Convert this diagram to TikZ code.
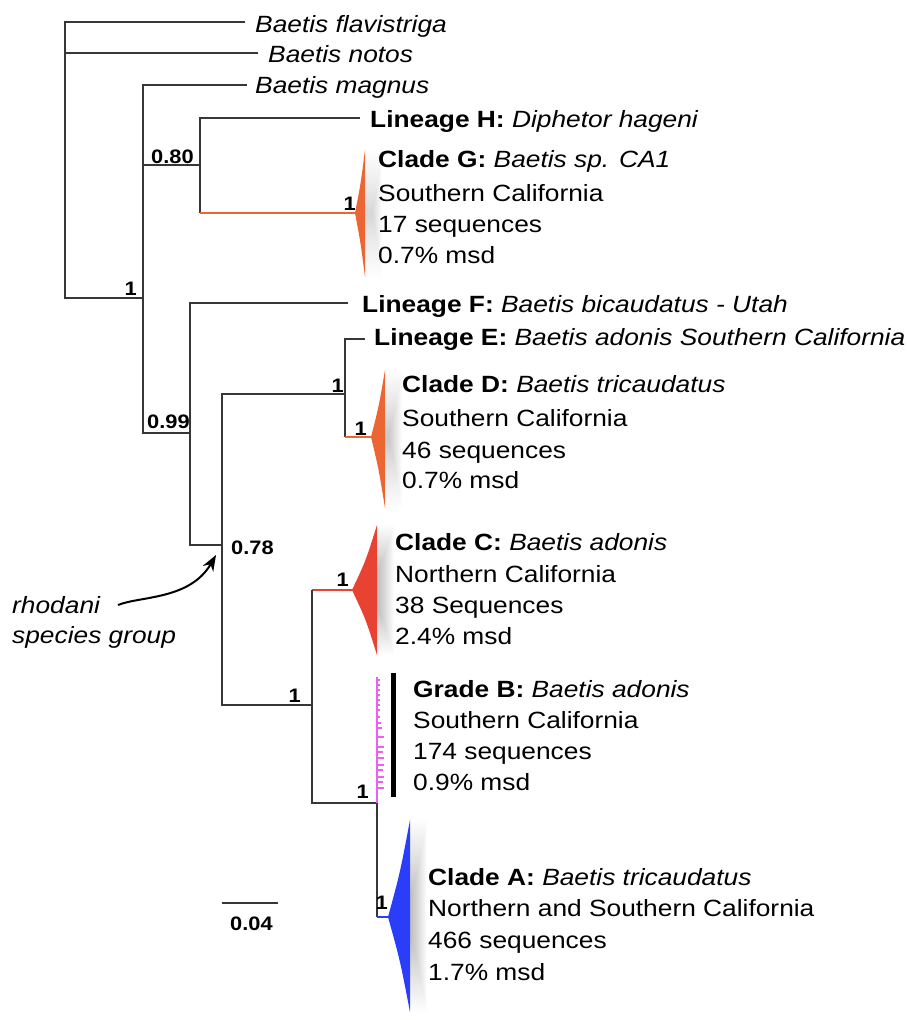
\documentclass[tikz,border=0pt]{standalone}
\usepackage{fontspec}
\setmainfont{Liberation Sans}
\usepackage{graphicx}
\usetikzlibrary{arrows.meta}
\definecolor{cOrange}{RGB}{236,102,52}
\definecolor{cRed}{RGB}{232,66,50}
\definecolor{cBlue}{RGB}{42,62,250}
\definecolor{cMag}{RGB}{235,95,245}
\definecolor{cBranch}{RGB}{55,55,55}
\newcommand\sx[1]{\scalebox{1.12}[1]{#1}}
\newcommand\cladetri[9]{%
  \foreach \s in {1.5,3,...,16.5}{\fill[black,opacity=0.022,xshift=\s pt] (#2,#3) .. controls (#7,#8) .. (#4,#5) -- (#4,#6) .. controls (#7,#9) .. (#2,#3) -- cycle;}%
  \fill[#1] (#2,#3) .. controls (#7,#8) .. (#4,#5) -- (#4,#6) .. controls (#7,#9) .. (#2,#3) -- cycle;}
\begin{document}
\begin{tikzpicture}[x=1pt,y=1pt,
  br/.style={draw=cBranch, line width=2.1pt},
  brO/.style={draw=cOrange, line width=2.1pt},
  brR/.style={draw=cRed, line width=1.9pt},
  brB/.style={draw=cBlue, line width=1.9pt},
  lab/.style={anchor=base west, inner sep=0pt, font=\fontsize{23.5}{28}\selectfont},
  num/.style={anchor=base east, inner sep=0pt, font=\fontsize{19.5}{22}\selectfont\bfseries},
  numw/.style={anchor=base west, inner sep=0pt, font=\fontsize{19.5}{22}\selectfont\bfseries}]
\useasboundingbox (0,0) rectangle (906,-1020);
\fill[white] (0,0) rectangle (906,-1020);

% ---- clade triangles (with soft shadow) ----
\cladetri{cOrange}{355}{-213}{365}{-150}{-277}{360.5}{-185}{-242}
\cladetri{cOrange}{371}{-437}{385}{-370}{-508}{378.7}{-407}{-469}
\cladetri{cRed}{352}{-590}{377}{-525}{-655}{365.7}{-561}{-619}
\cladetri{cBlue}{388}{-917}{410}{-820}{-1012}{400}{-873}{-960}

% ---- leaf end points ----
\coordinate (lflav) at (245,-22);
\coordinate (lnotos) at (258,-53);
\coordinate (lmag) at (247,-85);
\coordinate (lH) at (360,-118);
\coordinate (lG) at (355,-213);
\coordinate (lF) at (348,-303);
\coordinate (lE) at (365,-339);
\coordinate (lD) at (371,-437);
\coordinate (lC) at (352,-590);
\coordinate (lBtop) at (377,-677);
\coordinate (lA) at (388,-917);
% ---- internal nodes ----
\coordinate (R) at (65,-298);
\coordinate (N1) at (143,-298);
\coordinate (N080) at (200,-165);
\coordinate (N080b) at (200,-213);
\coordinate (N099) at (190,-433);
\coordinate (N099b) at (190,-545);
\coordinate (N078) at (222,-545);
\coordinate (N078b) at (222,-705);
\coordinate (NDE) at (345,-394);
\coordinate (NDEb) at (345,-437);
\coordinate (NABC) at (312,-705);
\coordinate (NABCt) at (312,-590);
\coordinate (NAB) at (377,-803);
\coordinate (NABb) at (377,-917);

% ---- branches ----
\draw[br] (lflav) -| (R) -- (N1);
\draw[br] (lnotos) -| (R);
\draw[br] (lmag) -| (N1);
\draw[br] (N1) |- (N080);
\draw[br] (N1) |- (N099);
\draw[br] (lH) -| (N080b);
\draw[brO] (N080b) -- (lG);
\draw[br] (lF) -| (N099b) -- (N078);
\draw[br] (NDE) -| (N078b) -- (NABC);
\draw[br] (lE) -| (NDEb);
\draw[brO] (NDEb) -- (lD);
\draw[brR] (NABCt) -- (lC);
\draw[br] (NABCt) -- (NABC) |- (NAB) -- (NABb);
\draw[brB] (NABb) -- (lA);

% ---- Grade B ----
\draw[cMag, line width=1.8pt] (lBtop) -- (NAB);
\foreach \y/\l in {680/3,685/3,690/3,695/3,700/3,705/3,710/3,717/3,723/4,728/5,737/7,747/7,752/6,758/7,765/7,770/6,777/7,782/6,788/7}
  \draw[cMag, line width=1.4pt] (377,-\y) -- ++(\l,0);
\fill[black] (390.5,-673) rectangle (395.5,-797);

% ---- scale bar ----
\coordinate (sb1) at (222,-903);
\coordinate (sb2) at (278,-903);
\draw[br] (sb1) -- (sb2);
\node[numw] (sblab) at (230,-930) {\sx{0.04}};

% ---- support values ----
\node[num] (s1) at (137,-295) {\sx{1}};
\node[numw] (s2) at (151,-163) {\sx{0.80}};
\node[num] (s3) at (356,-210) {\sx{1}};
\node[numw] (s4) at (147,-428) {\sx{0.99}};
\node[num] (s5) at (344,-392) {\sx{1}};
\node[num] (s6) at (367,-435) {\sx{1}};
\node[numw] (s7) at (231,-554) {\sx{0.78}};
\node[num] (s8) at (349,-586) {\sx{1}};
\node[num] (s9) at (301,-702) {\sx{1}};
\node[num] (s10) at (369,-798) {\sx{1}};
\node[num] (s11) at (388,-909) {\sx{1}};

% ---- leaf labels ----
\node[lab] (tflav) at (255,-32) {\sx{\itshape Baetis flavistriga}};
\node[lab] (tnotos) at (268,-62) {\sx{\itshape Baetis notos}};
\node[lab] (tmag) at (255,-93) {\sx{\itshape Baetis magnus}};
\node[lab] (tH) at (370,-127) {\sx{\textbf{Lineage H:} \textit{Diphetor hageni}}};
\node[lab] (tG1) at (378,-167) {\sx{\textbf{Clade G:} \textit{Baetis sp. CA1}}};
\node[lab] (tG2) at (378,-201) {\sx{Southern California}};
\node[lab] (tG3) at (378,-232) {\sx{17 sequences}};
\node[lab] (tG4) at (378,-263) {\sx{0.7\% msd}};
\node[lab] (tF) at (362,-312) {\sx{\textbf{Lineage F:} \textit{Baetis bicaudatus - Utah}}};
\node[lab] (tE) at (374,-345) {\sx{\textbf{Lineage E:} \textit{Baetis adonis Southern California}}};
\node[lab] (tD1) at (402,-392) {\sx{\textbf{Clade D:} \textit{Baetis tricaudatus}}};
\node[lab] (tD2) at (402,-426) {\sx{Southern California}};
\node[lab] (tD3) at (402,-458) {\sx{46 sequences}};
\node[lab] (tD4) at (402,-488) {\sx{0.7\% msd}};
\node[lab] (tC1) at (395,-550) {\sx{\textbf{Clade C:} \textit{Baetis adonis}}};
\node[lab] (tC2) at (395,-582) {\sx{Northern California}};
\node[lab] (tC3) at (395,-613) {\sx{38 Sequences}};
\node[lab] (tC4) at (395,-644) {\sx{2.4\% msd}};
\node[lab] (tB1) at (413,-697) {\sx{\textbf{Grade B:} \textit{Baetis adonis}}};
\node[lab] (tB2) at (413,-728) {\sx{Southern California}};
\node[lab] (tB3) at (413,-759) {\sx{174 sequences}};
\node[lab] (tB4) at (413,-790) {\sx{0.9\% msd}};
\node[lab] (tA1) at (428,-885) {\sx{\textbf{Clade A:} \textit{Baetis tricaudatus}}};
\node[lab] (tA2) at (428,-916) {\sx{Northern and Southern California}};
\node[lab] (tA3) at (428,-948) {\sx{466 sequences}};
\node[lab] (tA4) at (428,-980) {\sx{1.7\% msd}};

% ---- rhodani label and arrow ----
\node[lab] (rh1) at (12,-613) {\sx{\itshape rhodani}};
\node[lab] (rh2) at (12,-643) {\sx{\itshape species group}};
\coordinate (arS) at (118,-605);
\coordinate (arE) at (216,-555);
\draw[black, line width=2pt, -{Stealth[length=16pt,width=12pt]}] (arS) .. controls (140,-596) and (190,-600) .. (arE);
\end{tikzpicture}
\end{document}
